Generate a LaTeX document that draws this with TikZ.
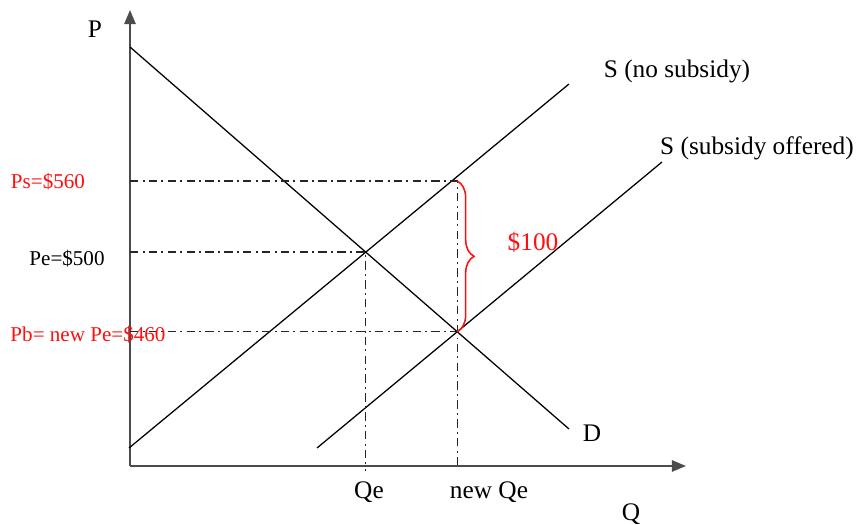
\documentclass[tikz,border=0pt]{standalone}
\usepackage{fontspec}
\setmainfont{Liberation Serif}
\usetikzlibrary{arrows.meta,decorations.pathreplacing}
\definecolor{subsidyRed}{HTML}{FF1010}

\begin{document}
\begin{tikzpicture}[x=0.025cm, y=-0.025cm,
    axis/.style={draw=black!70, line width=1.3pt},
    curve/.style={line width=0.9pt},
    guide/.style={black!85, line width=1pt, dash pattern=on 6pt off 3pt on 1.4pt off 3pt},
    lab/.style={font=\fontsize{18}{21}\selectfont},
    plab/.style={font=\fontsize{15}{18}\selectfont}]
    \useasboundingbox (0,0) rectangle (858,525);
    % axes
    \coordinate (O) at (130,466);
    \coordinate (ytip) at (130,10);
    \coordinate (xtip) at (686,466);
    \draw[axis, -{Triangle[length=10pt,width=8pt]}] (O) -- (ytip);
    \draw[axis, -{Triangle[length=10pt,width=8pt]}] (O) -- (xtip);
    \node[lab] (P) at (95,29) {P};
    \node[lab] (Q) at (631,514) {Q};
    % demand and the two supply lines
    \coordinate (dtop) at (130,47);
    \coordinate (dbot) at (569,429);
    \coordinate (s0a) at (129,448);
    \coordinate (s0b) at (569,84);
    \coordinate (s1a) at (317,448);
    \coordinate (s1b) at (662,162);
    \draw[curve] (dtop) -- (dbot);
    \draw[curve] (s0a) -- (s0b);
    \draw[curve] (s1a) -- (s1b);
    \node[lab] (D) at (592,433) {D};
    \node[lab] (snone) at (677,71) {S (no subsidy)};
    \node[lab] (ssub) at (757,148) {S (subsidy offered)};
    % equilibrium points
    \coordinate (E) at (intersection of dtop--dbot and s0a--s0b);
    \coordinate (Eb) at (intersection of dtop--dbot and s1a--s1b);
    \coordinate (Es) at (Eb |- 0,181);
    \coordinate (pe) at (O |- E);
    \coordinate (ps) at (O |- Es);
    \coordinate (pb) at (O |- Eb);
    \coordinate (qe) at (E |- 0,471);
    \coordinate (qn) at (Eb |- O);
    \draw[guide] (ps) -- (Es) -- (qn);
    \draw[guide] (pe) -- (E) -- (qe);
    \draw[guide] (pb) -- (Eb);
    % price and quantity labels
    \node[plab, text=subsidyRed] (Ps) at (48,182) {Ps=\$560};
    \node[plab] (Pe) at (67,259) {Pe=\$500};
    \node[plab, text=subsidyRed] (Pb) at (88,335) {Pb= new Pe=\$460};
    \node[lab] (Qe) at (369,492) {Qe};
    \node[lab] (newQe) at (489,492) {new Qe};
    % subsidy gap
    \draw[subsidyRed, line width=1.1pt, decorate,
        decoration={brace, amplitude=12pt}] (Es) -- (Eb);
    \node[lab, text=subsidyRed] (gap) at (533,242) {\$100};
\end{tikzpicture}
\end{document}
